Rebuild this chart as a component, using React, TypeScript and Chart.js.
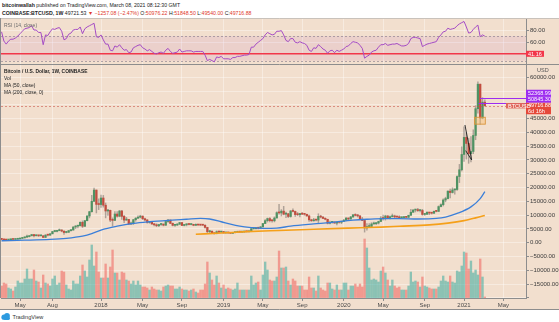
import React, { useEffect, useRef } from "react";
import { Chart, registerables } from "chart.js";

Chart.register(...registerables);

// ---------- DATA (weekly, index 0 = week of 2017-03-06) ----------
const firstOpen = 1265;
const closes = [
  1235, 1025, 965, 1085, 1180, 1175, 1250, 1350, 1550, 1760,
  2050, 2200, 2510, 2960, 2520, 2590, 2500, 2505, 1920, 2750,
  2740, 3230, 4050, 4090, 4350, 4600, 4200, 3700, 3780, 4380,
  4600, 5680, 6000, 6150, 7400, 5950, 8000, 9700, 11250, 15000,
  19100, 13900, 13850, 16200, 13600, 11500, 11750, 8200, 8100, 10400,
  9600, 11500, 9550, 8200, 8450, 6800, 6900, 8350, 8900, 9250,
  9650, 8700, 8250, 7350, 7700, 6800, 6500, 6150, 6600, 6750,
  6350, 7700, 8200, 7000, 6300, 6400, 6700, 7300, 6250, 6500,
  6700, 6600, 6620, 6300, 6500, 6400, 6380, 6350, 5550, 4000,
  4150, 3600, 3250, 4000, 3850, 4050, 3550, 3560, 3540, 3400,
  3650, 3700, 3850, 3840, 3900, 4000, 3980, 4100, 5050, 5070,
  5300, 5200, 5750, 6950, 8000, 8750, 8000, 7950, 8950, 10900,
  10800, 11450, 10350, 10500, 9500, 11500, 11350, 10200, 10150, 10600,
  10350, 10300, 9700, 8300, 7950, 8300, 8200, 9550, 9300, 8800,
  8500, 7050, 7400, 7500, 7100, 7500, 7400, 7750, 8150, 8900,
  8600, 9350, 10150, 9900, 9700, 8550, 8050, 5350, 5850, 5900,
  6800, 6900, 7130, 7700, 8900, 8750, 9700, 8900, 9450, 9700,
  9350, 9300, 9050, 9100, 9250, 9200, 9950, 11050, 11850, 11900,
  11650, 11700, 10250, 10300, 11050, 10750, 10700, 11400, 11350, 13100,
  13800, 15500, 16000, 18700, 18200, 19150, 19300, 24000, 26450, 32000,
  38200, 36000, 32300, 33100, 38900, 48600, 57500, 45200, 50976.22, 49716.88,
];
const highs = [
  1330, 1255, 1120, 1100, 1210, 1215, 1270, 1355, 1600, 1850,
  2070, 2760, 2550, 2980, 2990, 2780, 2600, 2650, 2540, 2920,
  2800, 3300, 4150, 4490, 4460, 4980, 4700, 4350, 4120, 4380,
  4620, 5850, 6200, 6250, 7600, 7900, 8100, 9750, 11400, 17200,
  19800, 19100, 15900, 17250, 17150, 14400, 12100, 11800, 9000, 11300,
  11300, 11700, 11700, 9900, 9200, 8500, 7500, 8450, 9050, 9750,
  9950, 9700, 8900, 8400, 7750, 7750, 6900, 6850, 6650, 6800,
  6800, 7700, 8500, 8250, 7150, 6600, 6900, 7400, 7400, 6600,
  6800, 6800, 6650, 6700, 6800, 6500, 6500, 6550, 6450, 5600,
  4400, 4300, 3650, 4300, 4250, 4100, 4100, 3750, 3650, 3550,
  3700, 3730, 4200, 3900, 3950, 4050, 4100, 4150, 5250, 5450,
  5600, 5650, 5850, 7000, 8350, 8950, 9100, 8200, 9350, 11200,
  13880, 12000, 13180, 11100, 10650, 11700, 12300, 11450, 10950, 10600,
  10950, 10450, 10350, 10050, 8500, 8800, 8400, 10500, 9950, 9500,
  9000, 8500, 7850, 7750, 7550, 7500, 7700, 7850, 8450, 9200,
  8950, 9600, 10150, 10500, 10300, 9950, 9200, 8200, 6950, 6950,
  7250, 7450, 7300, 7800, 9450, 10000, 9950, 9850, 9750, 10400,
  10000, 9650, 9800, 9300, 9450, 9300, 9950, 12100, 12000, 12100,
  12450, 11800, 12100, 10600, 11200, 11050, 10950, 11450, 11750, 13350,
  14100, 15950, 16500, 18800, 19450, 19900, 19450, 24300, 28400, 34800,
  42000, 40000, 37900, 38500, 40950, 49700, 58350, 57500, 52600, 51846.5,
];
const lows = [
  1100, 945, 890, 940, 1070, 1150, 1170, 1240, 1340, 1550,
  1690, 1850, 2070, 2490, 2100, 2500, 2280, 2480, 1840, 1900,
  2500, 2650, 3200, 3950, 3900, 4340, 3950, 2970, 3560, 3750,
  4150, 4570, 5100, 5400, 6120, 5500, 5900, 7900, 9000, 11100,
  15000, 10800, 12000, 12800, 12900, 9000, 9900, 7600, 6000, 8000,
  9300, 9400, 8400, 7300, 8100, 6550, 6500, 6600, 7800, 8700,
  9000, 8350, 7900, 7080, 7050, 6650, 6100, 5800, 5800, 6300,
  6100, 6300, 7400, 6900, 6100, 5900, 6250, 6650, 6200, 6100,
  6100, 6450, 6450, 6150, 6300, 6350, 6250, 6300, 5250, 3500,
  3600, 3300, 3150, 3250, 3600, 3700, 3500, 3500, 3450, 3350,
  3380, 3550, 3650, 3700, 3700, 3800, 3900, 3900, 4100, 4950,
  5000, 5000, 5150, 5600, 6900, 7500, 7500, 7450, 7550, 8950,
  10350, 9700, 10100, 9100, 9100, 9250, 11150, 9500, 9850, 9350,
  10200, 9950, 9600, 7700, 7750, 7800, 7900, 7300, 9000, 8700,
  8300, 6800, 6850, 7100, 7050, 6450, 7050, 6900, 7700, 8100,
  8250, 8500, 9150, 9700, 9300, 8400, 8000, 3850, 4500, 5700,
  5850, 6750, 6500, 6800, 7650, 8150, 8200, 8700, 8650, 9300,
  8950, 9200, 8850, 8950, 9050, 9050, 9150, 9900, 10950, 11150,
  11350, 11150, 9950, 9900, 10250, 10150, 10400, 10550, 11200, 11350,
  12950, 13300, 14850, 15900, 16200, 18000, 17600, 19000, 21800, 26000,
  29500, 30300, 28800, 29300, 32300, 37350, 47000, 43000, 44950, 49540,
];
// weekly volume, thousand BTC
const volumes = [
  60, 75, 70, 50, 45, 35, 55, 85, 75, 75,
  95, 145, 95, 95, 140, 85, 80, 50, 115, 75,
  70, 60, 95, 110, 65, 75, 135, 130, 65, 45,
  40, 85, 70, 70, 110, 165, 135, 105, 190, 265,
  160, 230, 130, 100, 100, 170, 100, 155, 240, 125,
  125, 90, 130, 125, 90, 85, 70, 85, 65, 85,
  65, 55, 55, 50, 40, 55, 45, 40, 40, 35,
  55, 60, 65, 60, 60, 45, 45, 55, 45, 40,
  40, 35, 40, 45, 30, 25, 40, 40, 70, 180,
  125, 90, 65, 110, 75, 50, 65, 45, 50, 45,
  40, 45, 75, 40, 40, 40, 40, 40, 110, 65,
  75, 80, 40, 115, 180, 140, 90, 85, 85, 105,
  235, 150, 150, 155, 85, 65, 95, 85, 60, 60,
  60, 40, 40, 105, 50, 50, 35, 110, 50, 40,
  35, 75, 75, 45, 40, 65, 40, 40, 75, 75,
  40, 60, 60, 70, 55, 70, 55, 295, 250, 150,
  90, 95, 90, 80, 135, 155, 125, 90, 60, 90,
  60, 50, 55, 40, 40, 40, 60, 130, 80, 85,
  80, 55, 105, 60, 55, 50, 45, 45, 45, 55,
  85, 110, 85, 80, 110, 80, 75, 135, 130, 160,
  230, 225, 145, 185, 125, 140, 115, 195, 105, 5,
];
const rsiValues = [
  77, 62, 57, 62, 65, 65, 67, 70, 74, 78,
  82, 83, 84, 87, 80, 80, 76, 76, 56, 72,
  71, 77, 82, 81, 83, 84, 78, 64, 66, 73,
  75, 80, 81, 81, 85, 74, 82, 85, 87, 89,
  91, 69, 68, 72, 64, 57, 57, 47, 46, 54,
  52, 56, 51, 47, 48, 43, 44, 51, 53, 55,
  56, 51, 49, 46, 48, 45, 42, 41, 43, 44,
  42, 47, 50, 45, 42, 43, 44, 49, 44, 45,
  46, 46, 46, 44, 45, 45, 45, 45, 39, 30,
  32, 30, 28, 36, 35, 37, 33, 33, 33, 32,
  35, 35, 37, 37, 38, 39, 39, 40, 52, 52,
  57, 60, 63, 66, 72, 76, 74, 72, 73, 78,
  78, 79, 72, 63, 61, 66, 66, 60, 59, 61,
  59, 58, 55, 47, 45, 51, 50, 56, 53, 49,
  47, 42, 46, 47, 43, 47, 45, 47, 49, 53,
  54, 58, 61, 60, 59, 55, 50, 34, 37, 39,
  44, 46, 47, 52, 56, 56, 58, 55, 56, 57,
  57, 58, 56, 54, 54, 55, 58, 66, 68, 68,
  67, 66, 53, 55, 57, 58, 59, 60, 61, 68,
  72, 77, 78, 83, 81, 82, 83, 87, 90, 92,
  94, 85, 75, 76, 81, 85, 88, 69, 72, 70,
];
const ma50Weeks = [0, 10, 21, 28, 35, 39, 43, 50, 57, 64, 72, 80, 86, 90, 95, 99, 103, 108, 113, 119, 125, 135, 142, 152, 158, 166, 172, 180, 188, 192, 197, 203, 207, 209];
const ma50Values = [700, 900, 1200, 1600, 2400, 3300, 4600, 6000, 7000, 7600, 8100, 8500, 8800, 8600, 7600, 6700, 6000, 5500, 5200, 5300, 6000, 6800, 7300, 8200, 8500, 8700, 8750, 8600, 8800, 9300, 10600, 13000, 16000, 18500];
const ma200Weeks = [84, 95, 106, 120, 135, 150, 164, 172, 185, 193, 200, 205, 209];
const ma200Values = [3050, 3500, 4000, 4450, 4900, 5300, 5650, 5950, 6450, 7100, 8000, 9000, 9900];

const xTickWeeks = [8, 22, 43, 61, 78, 96, 113, 130, 148, 165, 183, 200, 217];
const xTickLabels = ["May", "Aug", "2018", "May", "Sep", "2019", "May", "Sep", "2020", "May", "Sep", "2021", "May"];
const priceTicks = [60000, 55000, 50000, 45000, 40000, 35000, 30000, 25000, 20000, 15000, 10000, 5000, 0, -5000, -10000, -15000, -20000];
const hiddenPriceTicks = [55000, 50000, -20000];
const rsiTicks = [80, 60];

const lastPrice = 49716.88;
const levelA = 52368.99;
const levelB = 50845.3;
const rsiLevel = 41.16;
const countdown = "6d 16h";
const trendLines = [
  [200.4, 42700, 203.3, 30000],
  [200.7, 33400, 203.3, 30000],
];
const boxWeeks = [204.5, 209.2];
const boxPrices = [43000, 45500];

// ---------- STYLE ----------
const FONT = "'Liberation Sans', Arial, Helvetica, sans-serif";
const BG = "#f2dfce";
const AXIS = "#8d8d8d";
const GRID = "rgba(255,255,255,0.38)";
const UP = "#4f9263";
const DOWN = "#c24c3e";
const WICK = "rgba(105,100,95,0.5)";
const VOL_UP = "rgba(38,166,154,0.5)";
const VOL_DOWN = "rgba(239,83,80,0.5)";
const PURPLE = "#9d2cf0";
const REDLBL = "#e5493a";
const X_MIN = -0.25;
const X_MAX = 226.8;

Chart.defaults.font.family = FONT;

const opens = closes.map((c, k) => (k === 0 ? firstOpen : closes[k - 1]));

function fmtPrice(v: number) {
  const s = Math.abs(v).toFixed(2);
  return v < 0 ? "\u2212" + s : s;
}

function xScale(showLabels: boolean): any {
  return {
    type: "linear",
    min: X_MIN,
    max: X_MAX,
    offset: false,
    afterBuildTicks: (s: any) => {
      s.ticks = xTickWeeks.map((v) => ({ value: v }));
    },
    afterFit: (s: any) => {
      s.height = showLabels ? 11 : 0;
      s.paddingLeft = 0;
      s.paddingRight = 0;
    },
    grid: { offset: false, color: GRID, lineWidth: 1, drawTicks: showLabels, tickLength: 3, tickColor: AXIS },
    border: { display: showLabels, color: AXIS },
    ticks: {
      display: showLabels,
      autoSkip: false,
      maxRotation: 0,
      padding: 1,
      color: "#4a4a4a",
      font: { size: 6, family: FONT },
      callback: (_v: any, i: number) => xTickLabels[i],
    },
  };
}

const bgPlugin = {
  id: "bgfill",
  beforeDraw(chart: any) {
    const ctx = chart.ctx;
    ctx.save();
    ctx.fillStyle = BG;
    ctx.fillRect(0, 0, chart.width, chart.height);
    ctx.restore();
  },
};

function tag(ctx: any, x: number, y: number, w: number, h: number, bg: string, lines: string[]) {
  ctx.fillStyle = bg;
  ctx.fillRect(x, y, w, h);
  ctx.fillStyle = "#ffffff";
  ctx.font = "5.5px " + FONT;
  ctx.textBaseline = "middle";
  ctx.textAlign = "left";
  const lh = h / lines.length;
  lines.forEach((t, i) => ctx.fillText(t, x + 2, y + lh * i + lh / 2 + 0.3));
}

const rsiDecor = {
  id: "rsiDecor",
  beforeDatasetsDraw(chart: any) {
    const { ctx, chartArea: a, scales } = chart;
    const y = scales.y;
    ctx.save();
    const y70 = y.getPixelForValue(70);
    const y30 = y.getPixelForValue(30);
    ctx.fillStyle = "rgba(156,39,176,0.08)";
    ctx.fillRect(a.left, y70, a.right - a.left, y30 - y70);
    ctx.strokeStyle = "rgba(120,110,130,0.55)";
    ctx.setLineDash([2, 2]);
    ctx.lineWidth = 1;
    [y70, y30].forEach((yy) => {
      ctx.beginPath();
      ctx.moveTo(a.left, Math.round(yy) + 0.5);
      ctx.lineTo(a.right, Math.round(yy) + 0.5);
      ctx.stroke();
    });
    ctx.setLineDash([]);
    const yl = y.getPixelForValue(rsiLevel);
    ctx.strokeStyle = "#f2364a";
    ctx.lineWidth = 1.5;
    ctx.beginPath();
    ctx.moveTo(a.left, yl);
    ctx.lineTo(a.right, yl);
    ctx.stroke();
    ctx.restore();
  },
  afterDraw(chart: any) {
    const { ctx, chartArea: a, scales } = chart;
    const yl = scales.y.getPixelForValue(rsiLevel);
    ctx.save();
    tag(ctx, a.right, yl - 3, 18, 6, "#f2364a", [rsiLevel.toFixed(2)]);
    ctx.strokeStyle = "#c9c2bb";
    ctx.lineWidth = 1;
    ctx.beginPath();
    ctx.moveTo(0, 0.5);
    ctx.lineTo(chart.width, 0.5);
    ctx.stroke();
    ctx.strokeStyle = AXIS;
    ctx.beginPath();
    ctx.moveTo(0.5, 0);
    ctx.lineTo(0.5, a.bottom);
    ctx.moveTo(0, a.bottom + 0.5);
    ctx.lineTo(chart.width, a.bottom + 0.5);
    ctx.stroke();
    ctx.restore();
  },
};

const mainDecor = {
  id: "mainDecor",
  afterDatasetsDraw(chart: any) {
    const { ctx, chartArea: a, scales } = chart;
    const xs = scales.x;
    const ys = scales.y;
    ctx.save();
    ctx.beginPath();
    ctx.rect(a.left, a.top, a.right - a.left, a.bottom - a.top);
    ctx.clip();
    const yLast = ys.getPixelForValue(lastPrice);
    ctx.strokeStyle = "rgba(200,75,65,0.55)";
    ctx.lineWidth = 1;
    ctx.setLineDash([2, 2]);
    ctx.beginPath();
    ctx.moveTo(a.left, Math.round(yLast) + 0.5);
    ctx.lineTo(a.right, Math.round(yLast) + 0.5);
    ctx.stroke();
    ctx.setLineDash([]);
    ctx.strokeStyle = PURPLE;
    ctx.lineWidth = 1;
    const yA = ys.getPixelForValue(levelA);
    const yB = ys.getPixelForValue(levelB);
    ctx.beginPath();
    ctx.moveTo(xs.getPixelForValue(206.9), Math.round(yA) + 0.5);
    ctx.lineTo(a.right, Math.round(yA) + 0.5);
    ctx.moveTo(xs.getPixelForValue(206.3), Math.round(yB) + 0.5);
    ctx.lineTo(a.right, Math.round(yB) + 0.5);
    ctx.stroke();
    ctx.strokeStyle = "#1e1e1e";
    ctx.lineWidth = 0.9;
    trendLines.forEach((t) => {
      ctx.beginPath();
      ctx.moveTo(xs.getPixelForValue(t[0]), ys.getPixelForValue(t[1]));
      ctx.lineTo(xs.getPixelForValue(t[2]), ys.getPixelForValue(t[3]));
      ctx.stroke();
    });
    const bx0 = xs.getPixelForValue(boxWeeks[0]);
    const bx1 = xs.getPixelForValue(boxWeeks[1]);
    const by0 = ys.getPixelForValue(boxPrices[1]);
    const by1 = ys.getPixelForValue(boxPrices[0]);
    ctx.fillStyle = "rgba(250,190,110,0.45)";
    ctx.fillRect(bx0, by0, bx1 - bx0, by1 - by0);
    ctx.strokeStyle = "#d9953c";
    ctx.strokeRect(bx0, by0, bx1 - bx0, by1 - by0);
    ctx.restore();
  },
  afterDraw(chart: any) {
    const { ctx, chartArea: a, scales } = chart;
    const ys = scales.y;
    const yLast = ys.getPixelForValue(lastPrice);
    ctx.save();
    const redTop = yLast - 3;
    tag(ctx, a.right, redTop, 25, 11.6, REDLBL, [lastPrice.toFixed(2), countdown]);
    tag(ctx, a.right, redTop - 6.5, 25, 6.5, PURPLE, [levelB.toFixed(2)]);
    tag(ctx, a.right, redTop - 12.9, 25, 6.4, PURPLE, [levelA.toFixed(2)]);
    tag(ctx, a.right - 20, yLast - 2.6, 19.5, 5.4, "#e0675a", ["BTCUSD"]);
    ctx.fillStyle = "#555";
    ctx.font = "5.5px " + FONT;
    ctx.textBaseline = "middle";
    ctx.textAlign = "left";
    ctx.fillText("USD", a.right + 11, 5.5);
    ctx.strokeStyle = AXIS;
    ctx.lineWidth = 1;
    ctx.beginPath();
    ctx.moveTo(0.5, 0);
    ctx.lineTo(0.5, a.bottom);
    ctx.moveTo(0, chart.height - 0.5);
    ctx.lineTo(chart.width, chart.height - 0.5);
    ctx.stroke();
    ctx.restore();
  },
};

function rsiConfig(): any {
  return {
    type: "line",
    data: {
      datasets: [
        {
          data: rsiValues.map((v, k) => ({ x: k, y: v })),
          borderColor: "#a54cc5",
          borderWidth: 1,
          pointRadius: 0,
          tension: 0,
        },
      ],
    },
    options: {
      responsive: false,
      animation: false,
      events: [],
      layout: { padding: { left: 1, right: 0, top: 1, bottom: 1 } },
      plugins: { legend: { display: false }, tooltip: { enabled: false } },
      scales: {
        x: xScale(false),
        y: {
          position: "right",
          min: 24.5,
          max: 98,
          afterBuildTicks: (s: any) => {
            s.ticks = rsiTicks.slice().reverse().map((v) => ({ value: v }));
          },
          afterFit: (s: any) => {
            s.width = 33;
            s.paddingTop = 0;
            s.paddingBottom = 0;
          },
          grid: { color: GRID, tickLength: 3, tickColor: AXIS },
          border: { color: AXIS },
          ticks: {
            autoSkip: false,
            padding: 1,
            color: "#3c3c3c",
            font: { size: 6, family: FONT },
            callback: (v: any) => Number(v).toFixed(2),
          },
        },
      },
    },
    plugins: [bgPlugin, rsiDecor],
  };
}

function mainConfig(): any {
  const up = closes.map((c, k) => c >= opens[k]);
  return {
    type: "bar",
    data: {
      datasets: [
        {
          type: "line",
          data: ma50Weeks.map((k, i) => ({ x: k, y: ma50Values[i] })),
          borderColor: "#3b7fd9",
          borderWidth: 1.3,
          pointRadius: 0,
          cubicInterpolationMode: "monotone",
          yAxisID: "y",
          order: 1,
        },
        {
          type: "line",
          data: ma200Weeks.map((k, i) => ({ x: k, y: ma200Values[i] })),
          borderColor: "#f5a01a",
          borderWidth: 1.6,
          pointRadius: 0,
          cubicInterpolationMode: "monotone",
          yAxisID: "y",
          order: 2,
        },
        {
          data: closes.map((c, k) => ({ x: k, y: [opens[k], c] })),
          backgroundColor: up.map((u) => (u ? UP : DOWN)),
          barThickness: 1.6,
          minBarLength: 1,
          grouped: false,
          yAxisID: "y",
          order: 3,
        },
        {
          data: closes.map((c, k) => ({
            x: k,
            y: [Math.min(lows[k], opens[k], c), Math.max(highs[k], opens[k], c)],
          })),
          backgroundColor: WICK,
          barThickness: 0.8,
          grouped: false,
          yAxisID: "y",
          order: 4,
        },
        {
          data: volumes.map((v, k) => ({ x: k, y: v })),
          backgroundColor: up.map((u) => (u ? VOL_UP : VOL_DOWN)),
          barThickness: 1.7,
          grouped: false,
          yAxisID: "yv",
          order: 10,
        },
      ],
    },
    options: {
      responsive: false,
      animation: false,
      events: [],
      layout: { padding: { left: 1, right: 0, top: 0, bottom: 1 } },
      plugins: { legend: { display: false }, tooltip: { enabled: false } },
      scales: {
        x: xScale(true),
        y: {
          position: "right",
          min: -20060,
          max: 64460,
          afterBuildTicks: (s: any) => {
            s.ticks = priceTicks.slice().reverse().map((v) => ({ value: v }));
          },
          afterFit: (s: any) => {
            s.width = 33;
            s.paddingTop = 0;
            s.paddingBottom = 0;
          },
          grid: { color: GRID, tickLength: 3, tickColor: AXIS },
          border: { color: AXIS },
          ticks: {
            autoSkip: false,
            padding: 1,
            color: "#3c3c3c",
            font: { size: 6, family: FONT },
            callback: (v: any) => (hiddenPriceTicks.includes(Number(v)) ? "" : fmtPrice(Number(v))),
          },
        },
        yv: {
          display: false,
          min: 0,
          max: 1165,
          position: "left",
        },
      },
    },
    plugins: [bgPlugin, mainDecor],
  };
}

const red = { color: "#e0392b" };

export default function App() {
  const rsiRef = useRef<HTMLCanvasElement>(null);
  const mainRef = useRef<HTMLCanvasElement>(null);
  useEffect(() => {
    const c1 = new Chart(rsiRef.current as HTMLCanvasElement, rsiConfig());
    const c2 = new Chart(mainRef.current as HTMLCanvasElement, mainConfig());
    return () => {
      c1.destroy();
      c2.destroy();
    };
  }, []);
  const small: any = { position: "absolute", whiteSpace: "nowrap", fontSize: 5.2, lineHeight: "8px", color: "#222" };
  return (
    <div style={{ position: "absolute", left: 0, top: 0, width: 559, height: 322, background: "#ffffff", fontFamily: FONT, overflow: "hidden" }}>
      <div style={{ ...small, left: 2, top: 1 }}>
        <b>bitcoinwallah</b> published on TradingView.com, March 08, 2021 08:12:30 GMT
      </div>
      <div style={{ ...small, left: 2, top: 9 }}>
        <b>COINBASE:BTCUSD, 1W</b> 49721.53 <span style={red}>▼ −1257.08 (−2.47%)</span> O:<span style={red}>50976.22</span> H:<span style={red}>51848.50</span> L:<span style={red}>49540.00</span> C:<span style={red}>49716.88</span>
      </div>
      <canvas ref={rsiRef} width={559} height={47} style={{ position: "absolute", left: 0, top: 18, width: 559, height: 47 }} />
      <canvas ref={mainRef} width={559} height={245} style={{ position: "absolute", left: 0, top: 65, width: 559, height: 245 }} />
      <div style={{ ...small, left: 4, top: 21, color: "#6a6a6a", fontSize: 5 }}>RSI (14, close)</div>
      <div style={{ ...small, left: 4, top: 67.5, lineHeight: "7px", fontSize: 4.9 }}>
        <div style={{ fontWeight: "bold" }}>Bitcoin / U.S. Dollar, 1W, COINBASE</div>
        <div>Vol</div>
        <div>MA (50, close)</div>
        <div>MA (200, close, 0)</div>
      </div>
      <div style={{ position: "absolute", left: 1, top: 313, display: "flex", alignItems: "center" }}>
        <svg width="10" height="7" viewBox="0 0 10 7">
          <circle cx="3" cy="4.2" r="2.6" fill="#2d9be0" />
          <circle cx="6" cy="3" r="2.9" fill="#2d9be0" />
          <rect x="2.5" y="4" width="6.5" height="3" rx="1.4" fill="#2d9be0" />
        </svg>
        <span style={{ fontSize: 5.6, color: "#333", marginLeft: 1.5 }}>TradingView</span>
      </div>
    </div>
  );
}
